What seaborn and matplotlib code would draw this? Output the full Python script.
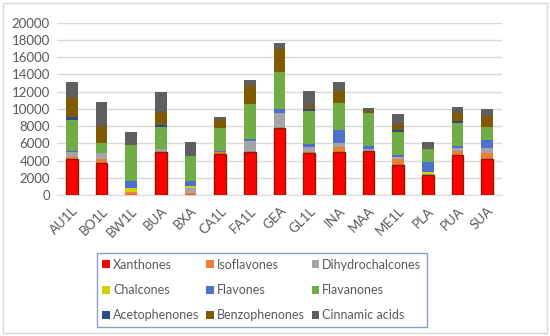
import numpy as np
import pandas as pd
import matplotlib
matplotlib.use("Agg")
import matplotlib.pyplot as plt
from matplotlib.patches import Patch, Rectangle
import seaborn as sns

# Sample codes (x axis)
samples = ['AU1L', 'BO1L', 'BW1L', 'BUA', 'BXA', 'CA1L', 'FA1L', 'GEA',
           'GL1L', 'INA', 'MAA', 'ME1L', 'PLA', 'PUA', 'SUA']

# Values per class
xanthones = [4150, 3670, 0, 5020, 0, 4700, 5020, 7720, 4830, 5020, 5100, 3470, 2320, 4630, 4130]
isoflavones = [300, 450, 300, 0, 200, 300, 0, 100, 170, 500, 0, 700, 0, 470, 700]
dihydrochalcones = [500, 800, 100, 350, 600, 0, 1280, 1700, 600, 500, 200, 200, 150, 400, 600]
chalcones = [0, 0, 400, 0, 300, 0, 0, 0, 0, 0, 0, 0, 150, 0, 0]
flavones = [200, 0, 850, 0, 550, 100, 200, 400, 300, 1500, 400, 300, 1200, 200, 1000]
flavanones = [3500, 1150, 4150, 2500, 2850, 2700, 4100, 4400, 3800, 3200, 3800, 2600, 1500, 2700, 1400]
acetophenones = [400, 0, 0, 300, 0, 0, 0, 0, 300, 0, 0, 300, 0, 200, 0]
benzophenones = [2200, 1900, 0, 1400, 0, 900, 2000, 2600, 300, 1300, 200, 600, 0, 900, 1300]
cinnamic_acids = [1800, 2850, 1550, 2370, 1680, 300, 700, 650, 1780, 1130, 420, 1180, 880, 650, 790]

classes = ['Xanthones', 'Isoflavones', 'Dihydrochalcones', 'Chalcones', 'Flavones',
           'Flavanones', 'Acetophenones', 'Benzophenones', 'Cinnamic acids']
colors = ['#FF0000', '#ED7D31', '#A5A5A5', '#D4D000', '#4F6FD0',
          '#70AD47', '#2E4A8C', '#7F5A00', '#5F5F5F']

df = pd.DataFrame({'sample': samples,
                   'Xanthones': xanthones, 'Isoflavones': isoflavones,
                   'Dihydrochalcones': dihydrochalcones, 'Chalcones': chalcones,
                   'Flavones': flavones, 'Flavanones': flavanones,
                   'Acetophenones': acetophenones, 'Benzophenones': benzophenones,
                   'Cinnamic acids': cinnamic_acids})

# cumulative sums so each layer can be drawn on top of the previous one
cum = df[classes].cumsum(axis=1)

sns.set_style('white')
plt.rcParams['font.family'] = ['Lato', 'DejaVu Sans']

fig = plt.figure(figsize=(5.5, 3.36), dpi=100)
ax = fig.add_axes([0.1036, 0.4196, 0.809, 0.5134])

# draw from the top layer down, so lower layers cover the upper cumulative bars
for name, col in reversed(list(zip(classes, colors))):
    sns.barplot(x=df['sample'], y=cum[name], color=col, width=0.39,
                saturation=1, ax=ax, zorder=3,
                edgecolor='#8B1A00' if name == 'Xanthones' else col,
                linewidth=1.0 if name == 'Xanthones' else 0)

ax.set_ylim(0, 20000)
ax.set_xlim(-0.5, len(samples) - 0.5)
ax.set_yticks(np.arange(0, 20001, 2000))
ax.yaxis.grid(True, color='#D9D9D9', linewidth=1, zorder=0)
ax.set_axisbelow(True)
ax.set_xlabel('')
ax.set_ylabel('')
for s in ['top', 'right', 'left']:
    ax.spines[s].set_visible(False)
ax.spines['bottom'].set_color('#D9D9D9')
ax.tick_params(axis='both', length=0, labelsize=9.5, colors='#595959')
ax.tick_params(axis='y', pad=5)
ax.tick_params(axis='x', pad=7)
plt.setp(ax.get_xticklabels(), rotation=45, ha='right', rotation_mode='anchor')

# legend laid out row by row like the original
handles = [Patch(facecolor=c, edgecolor='none') for c in colors]
order = [0, 3, 6, 1, 4, 7, 2, 5, 8]
leg = fig.legend([handles[i] for i in order], [classes[i] for i in order],
                 ncol=3, loc='upper center', bbox_to_anchor=(0.476, 0.265),
                 fontsize=9, handlelength=0.6, handleheight=0.6,
                 handletextpad=0.25, labelspacing=1.05, borderpad=0.45,
                 columnspacing=0.55, fancybox=False, labelcolor='#595959')
leg.get_frame().set_edgecolor('#6F86C6')
leg.get_frame().set_linewidth(1)

# light outer border of the chart area
fig.add_artist(Rectangle((0.005, 0.008), 0.99, 0.984, transform=fig.transFigure,
                         fill=False, edgecolor='#D9D9D9', linewidth=1))

fig.savefig('out.png', dpi=100)
